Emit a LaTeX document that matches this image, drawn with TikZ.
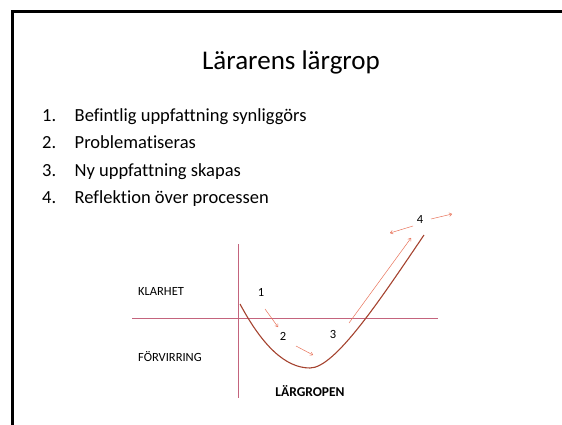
\documentclass[tikz,border=0pt]{standalone}
\usepackage{fontspec}
\setmainfont{Carlito}[Ligatures=NoCommon]
\usetikzlibrary{arrows.meta}
\definecolor{axisred}{RGB}{196,100,125}
\definecolor{curvebrown}{RGB}{165,67,47}
\definecolor{arrowred}{RGB}{232,115,90}
\begin{document}
\begin{tikzpicture}[x=1pt,y=-1pt,
  item/.style={anchor=base west, font=\fontsize{18.5}{22}\selectfont, inner sep=0pt},
  small/.style={anchor=base, font=\fontsize{12.5}{15}\selectfont, inner sep=0pt},
  stepline/.style={arrowred, line width=0.5pt, -{To[length=3pt,width=4pt]}}]
\useasboundingbox (0,0) rectangle (562,425);
% slide frame
\draw[line width=3pt] (12,425) -- (12,12) -- (562,12);

% title and list
\node[anchor=base, font=\fontsize{27}{32}\selectfont, inner sep=0pt] (title) at (291,70) {Lärarens lärgrop};
\node[item] (n1) at (42,121.5) {1.};
\node[item] (t1) at (74.5,121.5) {Befintlig uppfattning synliggörs};
\node[item] (n2) at (42,149) {2.};
\node[item] (t2) at (74.5,149) {Problematiseras};
\node[item] (n3) at (42,176.5) {3.};
\node[item] (t3) at (74.5,176.5) {Ny uppfattning skapas};
\node[item] (n4) at (42,203.5) {4.};
\node[item] (t4) at (74.5,203.5) {Reflektion över processen};

% axes
\draw[axisred, line width=1.6pt] (132,318.5) -- (438,318.5);
\draw[axisred, line width=0.9pt] (238.5,244) -- (238.5,398);

% labels
\node[small, anchor=base west] (klar) at (138,295.7) {KLARHET};
\node[small, anchor=base west] (forv) at (138,361.7) {FÖRVIRRING};
\node[small, font=\fontsize{13.5}{16}\selectfont\bfseries] (grop) at (310,396) {LÄRGROPEN};
\node[small] (s1) at (261,296) {1};
\node[small] (s2) at (283,340) {2};
\node[small] (s3) at (333,338) {3};
\node[small] (s4) at (420,223) {4};

% the pit
\draw[curvebrown, line width=1.1pt] (240,304) .. controls (262,345) and (285,368) .. (310,368)
  .. controls (335,368) and (380,300) .. (424,235);

% steps
\coordinate (a1) at (265,309);
\coordinate (b1) at (278,327);
\coordinate (a2) at (296,346);
\coordinate (b2) at (313,355);
\coordinate (a3) at (349,323);
\coordinate (b3) at (411,238);
\coordinate (a4) at (413,226);
\coordinate (b4) at (390,233);
\coordinate (a5) at (431,219);
\coordinate (b5) at (452,214);
\draw[stepline] (a1) -- (b1);
\draw[stepline] (a2) -- (b2);
\draw[stepline] (a3) -- (b3);
\draw[stepline] (a4) -- (b4);
\draw[stepline] (a5) -- (b5);
\end{tikzpicture}
\end{document}
